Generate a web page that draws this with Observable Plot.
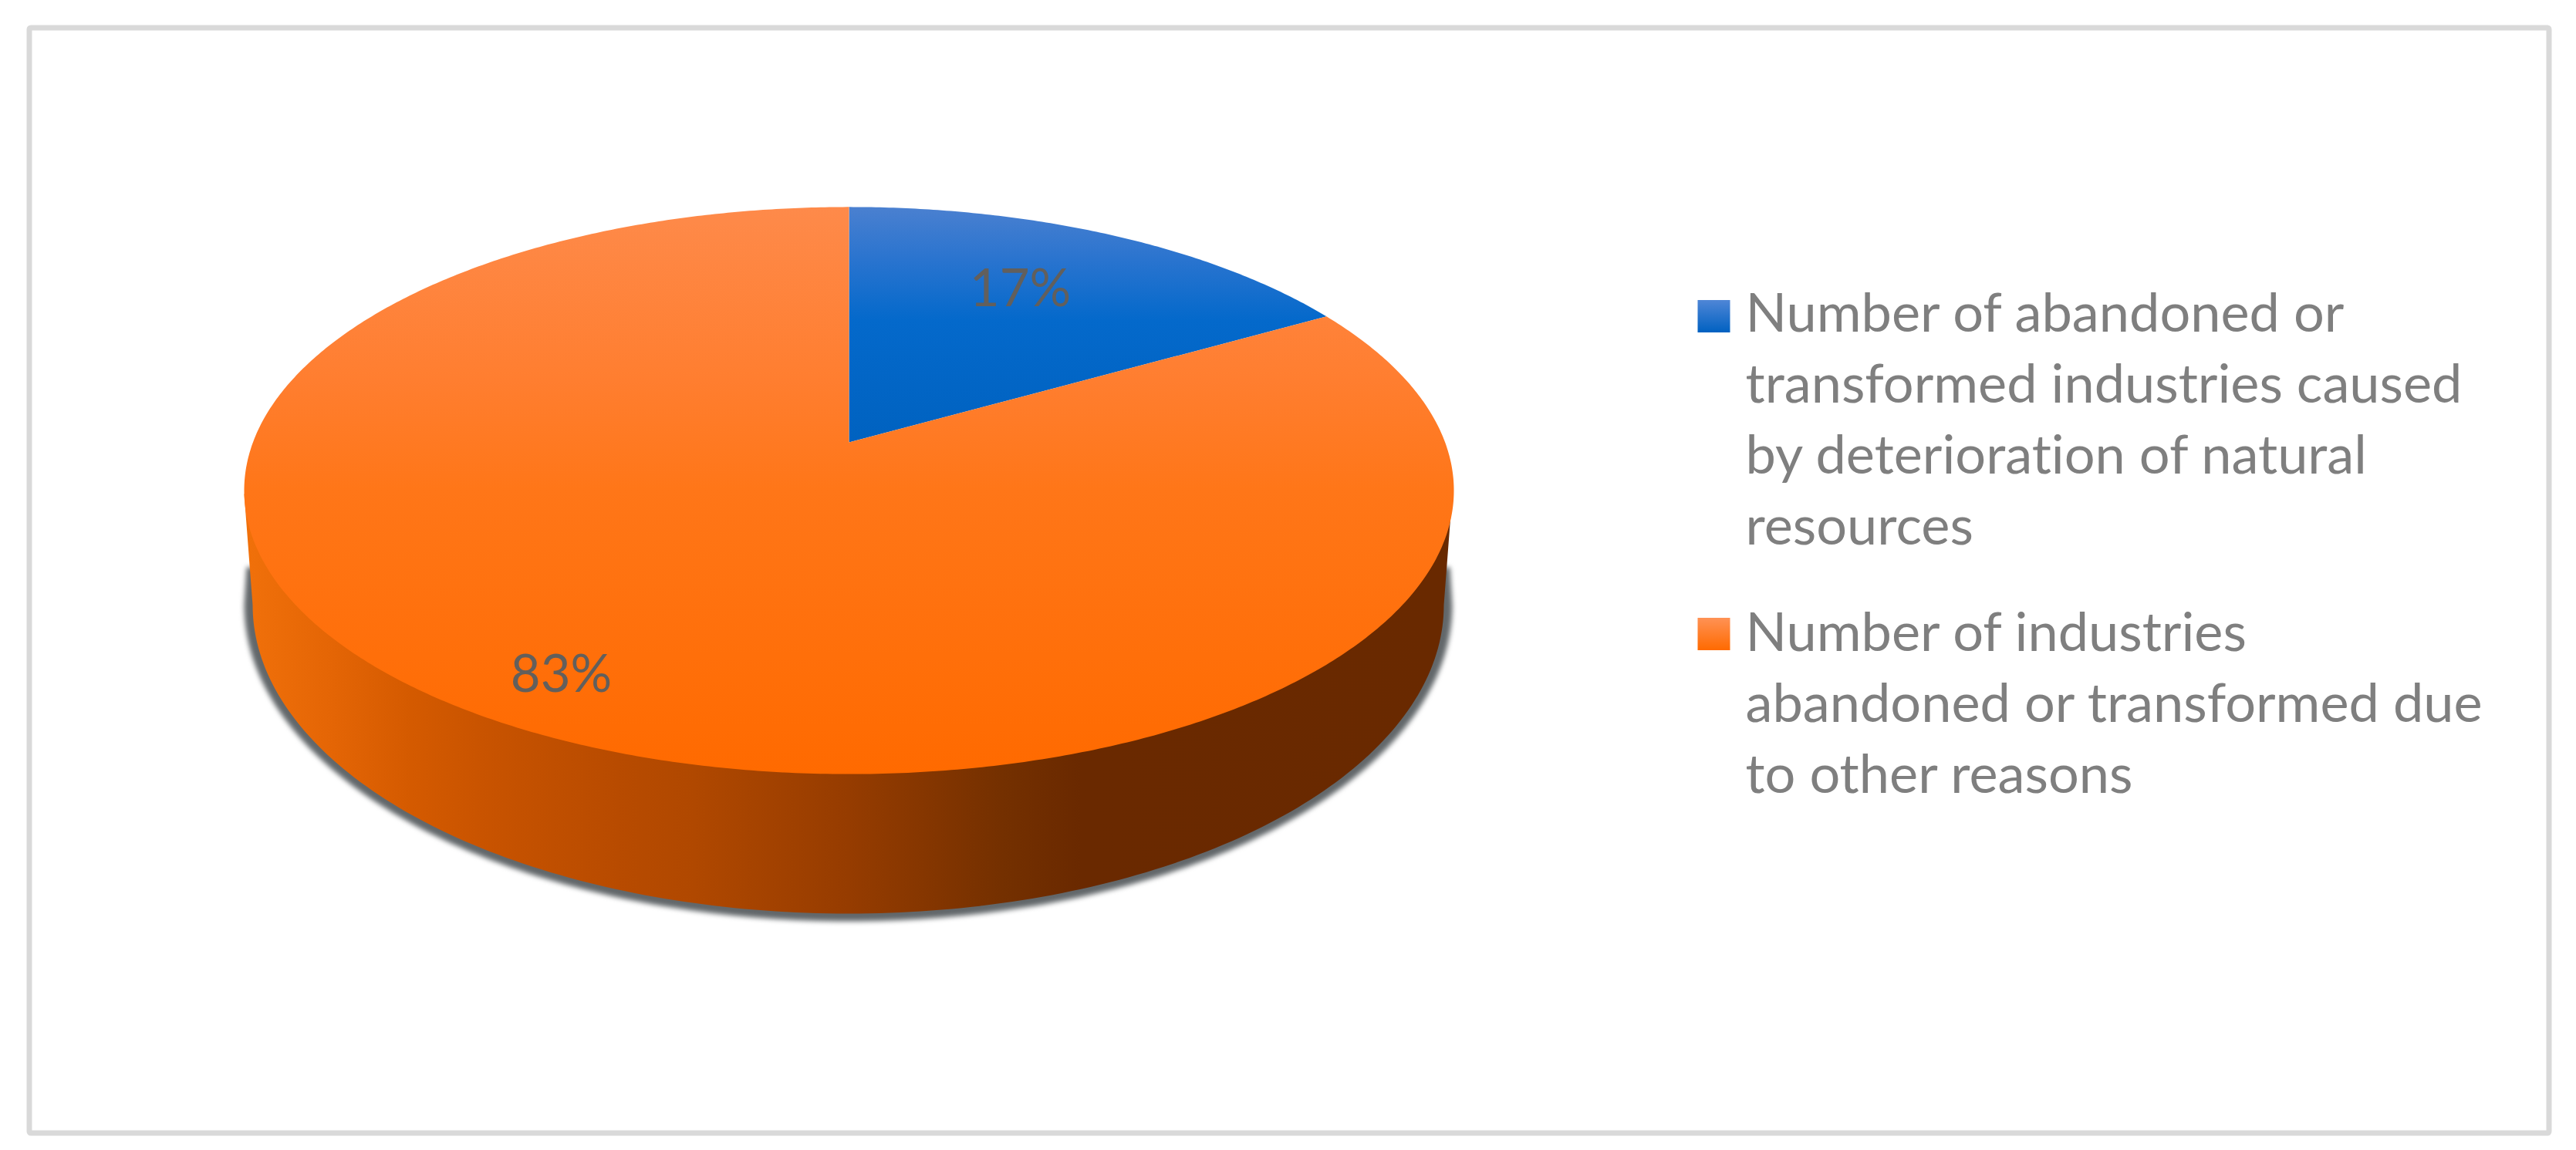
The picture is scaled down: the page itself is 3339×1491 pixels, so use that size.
<!DOCTYPE html>
<html>
<head>
<meta charset="utf-8">
<script src="https://cdn.jsdelivr.net/npm/d3@7"></script>
<script src="https://cdn.jsdelivr.net/npm/@observablehq/plot@0.6"></script>
<style>
html,body{margin:0;padding:0;background:#fff}
svg{display:block}
svg text{font-variant-ligatures:none}
</style>
</head>
<body>
<div id="chart"></div>
<script>
// --- data ---
const categories = ["blue", "orange"];
const shares = [16.75, 83.25];            // slice sizes as drawn (labelled 17% and 83%)
const shareLabels = ["17%", "83%"];
const legendLabels = [
  "Number of abandoned or\ntransformed industries caused\nby deterioration of natural\nresources",
  "Number of industries\nabandoned or transformed due\nto other reasons"
];

// --- page layout (pixels) ---
const W = 3339, H = 1491;
const frame = {l: 37.5, r: 3303.5, t: 35.5, b: 1468.5};
const apex = {x: 1100, y: 573};           // pie centre on screen
const A = 772.6, B = 357, P = 0.17;       // perspective of the top face
const X = px => (px - apex.x) / A;        // pixel -> x scale units
const Y = px => (apex.y - px) / B;        // pixel -> y scale units

// perspective projection of a unit disc to scale units
const project = (r, deg) => {
  const t = deg * Math.PI / 180, u = r * Math.sin(t), v = r * Math.cos(t), w = 1 + P * v;
  return {x: u / w, y: v / w};
};

// pie slices, clockwise from 12 o'clock
const total = d3.sum(shares);
let acc = 0;
const slices = shares.map((s, i) => {
  const a0 = acc / total * 360; acc += s;
  const a1 = acc / total * 360;
  const pts = [{x: 0, y: 0}];
  for (let a = a0; a < a1; a += 0.5) pts.push(project(1, a));
  pts.push(project(1, a1), {x: 0, y: 0});
  return {key: categories[i], pts};
});

// lower edge of the wall and its shadow
const ellipseHalf = (cx, cy, rx, ry, topL, topR, topY) => {
  const pts = [{x: X(topL), y: Y(topY)}];
  for (let a = 180; a >= 0; a -= 1) {
    const t = a * Math.PI / 180;
    pts.push({x: X(cx + rx * Math.cos(t)), y: Y(cy + ry * Math.sin(t))});
  }
  pts.push({x: X(topR), y: Y(topY)});
  return pts;
};
const wall = ellipseHalf(1099, 784, 772, 400, 316, 1882, 640);
const shadow = ellipseHalf(1099, 784, 783, 410, 319, 1879, 735);

// gradients
const vGrad = (id, stops, y1, y2) => {
  const g = d3.create("svg:linearGradient").attr("id", id).attr("gradientUnits", "userSpaceOnUse")
    .attr("x1", 0).attr("x2", 0).attr("y1", y1).attr("y2", y2);
  stops.forEach(([o, c]) => g.append("stop").attr("offset", o).attr("stop-color", c));
  return g.node();
};
const defsMark = () => {
  const d = d3.create("svg:defs");
  d.node().append(
    vGrad("topBlue", [[0, "#4a80d0"], [0.22, "#2a74cf"], [0.48, "#0469cb"], [1, "#0062c0"]], 268, 573),
    vGrad("topOrange", [[0, "#fe8a4a"], [0.3, "#ff7e30"], [0.5, "#ff7618"], [1, "#ff6a00"]], 268, 1003)
  );
  const side = d3.create("svg:linearGradient").attr("id", "side").attr("gradientUnits", "userSpaceOnUse")
    .attr("x1", 322).attr("x2", 1875).attr("y1", 0).attr("y2", 0);
  [[0, "#f0700a"], [0.07, "#e46505"], [0.136, "#d45a00"], [0.2, "#c85300"], [0.308, "#b84b00"],
   [0.372, "#b04800"], [0.5, "#963c00"], [0.63, "#743000"], [0.695, "#6a2900"], [1, "#692900"]]
    .forEach(([o, c]) => side.append("stop").attr("offset", o).attr("stop-color", c));
  d.node().append(side.node());
  for (const [id, a, b] of [["swBlue", "#4f86d6", "#0061c1"], ["swOrange", "#ff9255", "#ff6a00"]]) {
    const g = d.append("linearGradient").attr("id", id).attr("x1", 0).attr("x2", 0).attr("y1", 0).attr("y2", 1);
    g.append("stop").attr("offset", 0).attr("stop-color", a);
    g.append("stop").attr("offset", 1).attr("stop-color", b);
  }
  return d.node();
};

const fills = {blue: "url(#topBlue)", orange: "url(#topOrange)"};
const lato = "Lato, 'Open Sans', sans-serif";

const chart = Plot.plot({
  width: W, height: H,
  marginLeft: frame.l, marginRight: W - frame.r, marginTop: frame.t, marginBottom: H - frame.b,
  style: {background: "#ffffff", overflow: "visible"},
  x: {type: "linear", domain: [X(frame.l), X(frame.r)], axis: null},
  y: {type: "linear", domain: [Y(frame.b), Y(frame.t)], axis: null},
  marks: [
    defsMark,
    Plot.frame({stroke: "#d9d9d9", strokeWidth: 7, rx: 2}),
    Plot.line(shadow, {x: "x", y: "y", stroke: "none", fill: "#62676a", imageFilter: "blur(3px)"}),
    Plot.line(wall, {x: "x", y: "y", stroke: "none", fill: "url(#side)"}),
    ...slices.map(s => Plot.line(s.pts, {x: "x", y: "y", stroke: "none", fill: fills[s.key]})),
    Plot.text(shareLabels, {
      x: (d, i) => X([1322, 727][i]), y: (d, i) => Y([375, 875][i]),
      text: d => d, fontFamily: lato, fontSize: 67, fill: "#625f5c", fontWeight: 400
    }),
    Plot.dot(legendLabels, {
      x: () => X(2221), y: (d, i) => Y([409.5, 821.5][i]),
      symbol: "square", r: 42 / Math.sqrt(Math.PI),
      fill: (d, i) => ["url(#swBlue)", "url(#swOrange)"][i], stroke: "none"
    }),
    Plot.text(legendLabels, {
      x: () => X(2262), y: (d, i) => Y([364, 778][i]),
      text: d => d, textAnchor: "start", lineAnchor: "top", lineHeight: 92 / 70.3,
      fontFamily: lato, fontSize: 70.3, fill: "#7f7f7f"
    })
  ]
});
document.getElementById("chart").append(chart);
</script>
</body>
</html>
